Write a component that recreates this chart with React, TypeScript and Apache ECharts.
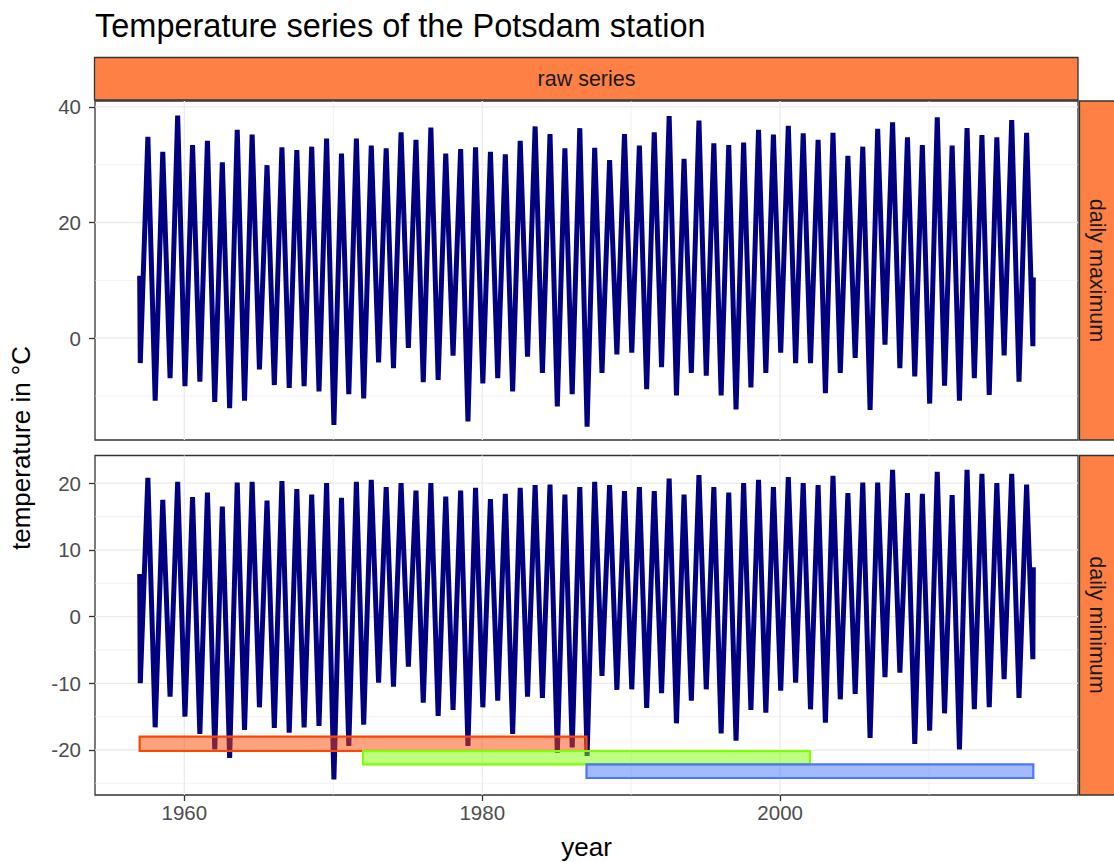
import React, { useEffect, useRef } from "react";
import * as echarts from "echarts";

// ---- data ----
const years = [
  1957, 1958, 1959, 1960, 1961, 1962, 1963, 1964, 1965, 1966,
  1967, 1968, 1969, 1970, 1971, 1972, 1973, 1974, 1975, 1976,
  1977, 1978, 1979, 1980, 1981, 1982, 1983, 1984, 1985, 1986,
  1987, 1988, 1989, 1990, 1991, 1992, 1993, 1994, 1995, 1996,
  1997, 1998, 1999, 2000, 2001, 2002, 2003, 2004, 2005, 2006,
  2007, 2008, 2009, 2010, 2011, 2012, 2013, 2014, 2015, 2016,
];

// daily maximum: winter low and summer high of each year
const maxWinter = [
  -4.3, -10.8, -6.9, -8.3, -7.5, -11.0, -12.1, -10.8, -5.4, -8.1,
  -8.6, -8.3, -9.2, -15.0, -9.7, -10.4, -4.2, -5.2, -1.7, -7.6,
  -7.2, -3.0, -14.4, -7.8, -6.9, -9.2, -3.2, -6.0, -11.8, -9.7,
  -15.3, -6.0, -2.8, -2.5, -8.8, -5.0, -9.9, -6.0, -6.5, -9.9,
  -12.3, -8.5, -6.0, -2.5, -4.3, -4.3, -9.5, -6.0, -3.4, -12.4,
  -1.1, -5.2, -6.6, -11.3, -8.2, -10.8, -6.9, -9.8, -3.0, -7.5,
];
const maxSummer = [
  34.8, 32.2, 38.5, 33.4, 34.1, 30.4, 36.0, 35.2, 29.9, 33.0,
  32.5, 33.1, 34.5, 31.9, 34.5, 33.3, 32.8, 35.6, 34.3, 36.4,
  31.9, 32.7, 33.0, 32.2, 31.8, 34.1, 36.6, 35.3, 32.8, 36.3,
  32.9, 30.8, 35.3, 33.3, 35.6, 38.4, 31.0, 37.6, 33.7, 33.4,
  33.8, 36.0, 35.2, 36.7, 35.4, 34.3, 35.5, 31.5, 33.1, 36.2,
  37.3, 34.7, 33.4, 38.2, 33.3, 36.3, 35.1, 34.7, 37.7, 35.5,
];
const maxFirst = 10.8;
const maxLastDec = -1.4;
const maxLast = 10.5;

// daily minimum: winter low and summer high of each year
const minWinter = [
  -10.0, -16.6, -12.0, -15.0, -17.6, -19.9, -21.2, -17.0, -13.6, -16.7,
  -17.4, -16.6, -16.4, -24.4, -19.4, -16.2, -9.9, -10.5, -7.5, -12.9,
  -14.9, -14.0, -19.4, -13.6, -12.6, -17.6, -12.0, -12.2, -20.4, -19.6,
  -20.9, -8.9, -11.0, -10.9, -13.7, -11.5, -16.0, -12.6, -10.9, -17.5,
  -18.6, -14.0, -14.4, -11.1, -9.9, -13.9, -15.9, -12.4, -11.6, -18.2,
  -9.1, -8.4, -19.1, -17.1, -14.5, -19.9, -13.9, -13.6, -9.4, -12.2,
];
const minSummer = [
  20.8, 17.5, 20.2, 17.9, 18.6, 16.5, 20.1, 20.2, 17.4, 20.3,
  19.1, 18.3, 20.0, 17.8, 20.2, 20.5, 19.4, 20.0, 18.9, 20.0,
  18.0, 18.9, 19.3, 17.6, 18.4, 19.3, 19.7, 19.8, 18.3, 19.4,
  20.2, 19.7, 18.8, 19.4, 18.8, 20.7, 18.3, 21.2, 19.4, 18.6,
  20.0, 20.5, 19.4, 20.9, 20.0, 19.7, 21.1, 18.5, 20.1, 20.1,
  22.0, 18.5, 18.4, 21.7, 18.2, 22.0, 21.4, 20.0, 21.4, 19.8,
];
const minFirst = 6.4;
const minLastDec = -6.4;
const minLast = 7.4;

// 30-year reference periods (bottom panel)
const periodStart = [1957, 1972, 1987];
const periodEnd = [1987, 2002, 2017];
const periodTop = [-18.0, -20.15, -22.15];
const periodBottom = [-20.15, -22.15, -24.2];
const periodStroke = ["#FF4500", "#7FFF00", "#4876FF"];
const periodFill = [
  "rgba(255,69,0,0.5)",
  "rgba(127,255,0,0.5)",
  "rgba(72,118,255,0.5)",
];

// ticks / gridlines
const xMajor = [1960, 1980, 2000];
const xMinor = [1970, 1990, 2010];
const topMajor = [0, 20, 40];
const topMinor = [-10, 10, 30];
const botMajor = [-20, -10, 0, 10, 20];
const botMinor = [-25, -15, -5, 5, 15];

const X_MIN = 1954;
const X_MAX = 2020;
const TOP_MIN = -17.6;
const TOP_MAX = 41.0;
const BOT_MIN = -26.75;
const BOT_MAX = 24.15;

function buildSeries(first: number, winter: number[], summer: number[], lastDec: number, last: number) {
  const pts: number[][] = [[years[0], first]];
  years.forEach((y, i) => {
    pts.push([y + 0.04, winter[i]]);
    pts.push([y + 0.55, summer[i]]);
  });
  pts.push([years[years.length - 1] + 0.97, lastDec]);
  pts.push([years[years.length - 1] + 1.0, last]);
  return pts;
}

function gridItems(major: number[], minor: number[], yMajor: number[], yMinor: number[], yMid: number) {
  const xMid = (X_MIN + X_MAX) / 2;
  const items: number[][] = [];
  minor.forEach((v) => items.push([v, yMid, 0, 0]));
  yMinor.forEach((v) => items.push([xMid, v, 1, 0]));
  major.forEach((v) => items.push([v, yMid, 0, 1]));
  yMajor.forEach((v) => items.push([xMid, v, 1, 1]));
  return items;
}

const renderGridLine = (params: any, api: any) => {
  const cs = params.coordSys;
  const orient = api.value(2);
  const major = api.value(3);
  const p = api.coord([api.value(0), api.value(1)]);
  const shape =
    orient === 0
      ? { x1: p[0], y1: cs.y, x2: p[0], y2: cs.y + cs.height }
      : { x1: cs.x, y1: p[1], x2: cs.x + cs.width, y2: p[1] };
  return {
    type: "line",
    shape,
    silent: true,
    style: { stroke: "#EBEBEB", lineWidth: major ? 1.3 : 0.65 },
  };
};

const FONT = "'Liberation Sans', Arial, Helvetica, sans-serif";
const STRIP = "#FF8044";
const AXIS_TEXT = 20.5;
const STRIP_TEXT = 21.5;
const AXIS_TITLE = 26;

export default function App() {
  const ref = useRef<HTMLDivElement>(null);

  useEffect(() => {
    if (!ref.current) return;
    const chart = echarts.init(ref.current, null, { renderer: "svg" });

    const gridLeft = 95;
    const gridWidth = 983;
    const topGrid = { top: 101, height: 339 };
    const botGrid = { top: 455.5, height: 339.5 };

    const rectData = periodStart.map((s, i) => [s, periodEnd[i], periodTop[i], periodBottom[i], i]);

    const yAxisCommon = (min: number, max: number, ticks: number[], gridIndex: number) => ({
      type: "value",
      gridIndex,
      min,
      max,
      axisLine: { show: false, onZero: false },
      splitLine: { show: false },
      axisTick: {
        show: true,
        customValues: ticks,
        length: 6,
        lineStyle: { color: "#333333", width: 1.3 },
      },
      axisLabel: {
        customValues: ticks,
        color: "#4D4D4D",
        fontSize: AXIS_TEXT,
        fontFamily: FONT,
        margin: 14,
        formatter: (v: number) => String(v),
      },
    });

    const lineSeries = (axis: number, data: number[][]) => ({
      type: "line",
      xAxisIndex: axis,
      yAxisIndex: axis,
      z: 3,
      symbol: "none",
      showSymbol: false,
      clip: true,
      lineStyle: { color: "#000080", width: 5, join: "miter" },
      data,
    });

    const option: any = {
      animation: false,
      backgroundColor: "#FFFFFF",
      textStyle: { fontFamily: FONT },
      grid: [
        {
          left: gridLeft,
          width: gridWidth,
          top: topGrid.top,
          height: topGrid.height,
          show: true,
          borderColor: "#333333",
          borderWidth: 1.3,
          backgroundColor: "#FFFFFF",
        },
        {
          left: gridLeft,
          width: gridWidth,
          top: botGrid.top,
          height: botGrid.height,
          show: true,
          borderColor: "#333333",
          borderWidth: 1.3,
          backgroundColor: "#FFFFFF",
        },
      ],
      xAxis: [
        {
          type: "value",
          gridIndex: 0,
          min: X_MIN,
          max: X_MAX,
          axisLine: { show: false, onZero: false },
          axisTick: { show: false },
          axisLabel: { show: false },
          splitLine: { show: false },
        },
        {
          type: "value",
          gridIndex: 1,
          min: X_MIN,
          max: X_MAX,
          axisLine: { show: false, onZero: false },
          splitLine: { show: false },
          axisTick: {
            show: true,
            customValues: xMajor,
            length: 6,
            lineStyle: { color: "#333333", width: 1.3 },
          },
          axisLabel: {
            customValues: xMajor,
            color: "#4D4D4D",
            fontSize: AXIS_TEXT,
            fontFamily: FONT,
            margin: 7,
            formatter: (v: number) => String(v),
          },
        },
      ],
      yAxis: [
        yAxisCommon(TOP_MIN, TOP_MAX, topMajor, 0),
        yAxisCommon(BOT_MIN, BOT_MAX, botMajor, 1),
      ],
      series: [
        {
          type: "custom",
          xAxisIndex: 0,
          yAxisIndex: 0,
          z: 1,
          silent: true,
          renderItem: renderGridLine,
          data: gridItems(xMajor, xMinor, topMajor, topMinor, 10),
        },
        {
          type: "custom",
          xAxisIndex: 1,
          yAxisIndex: 1,
          z: 1,
          silent: true,
          renderItem: renderGridLine,
          data: gridItems(xMajor, xMinor, botMajor, botMinor, 0),
        },
        lineSeries(0, buildSeries(maxFirst, maxWinter, maxSummer, maxLastDec, maxLast)),
        lineSeries(1, buildSeries(minFirst, minWinter, minSummer, minLastDec, minLast)),
        {
          type: "custom",
          xAxisIndex: 1,
          yAxisIndex: 1,
          z: 5,
          silent: true,
          renderItem: (params: any, api: any) => {
            const idx = api.value(4);
            const p1 = api.coord([api.value(0), api.value(2)]);
            const p2 = api.coord([api.value(1), api.value(3)]);
            return {
              type: "rect",
              shape: { x: p1[0], y: p1[1], width: p2[0] - p1[0], height: p2[1] - p1[1] },
              style: { fill: periodFill[idx], stroke: periodStroke[idx], lineWidth: 2.2 },
            };
          },
          data: rectData,
        },
      ],
      graphic: [
        {
          type: "text",
          x: 95,
          y: 26,
          style: {
            text: "Temperature series of the Potsdam station",
            fontSize: 32.5,
            fontFamily: FONT,
            fill: "#000000",
            verticalAlign: "middle",
          },
        },
        {
          type: "rect",
          shape: { x: 94.5, y: 57.5, width: 983.5, height: 42.5 },
          style: { fill: STRIP, stroke: "#333333", lineWidth: 1.3 },
        },
        {
          type: "text",
          x: 586.5,
          y: 79,
          style: {
            text: "raw series",
            fontSize: STRIP_TEXT,
            fontFamily: FONT,
            fill: "#1A1A1A",
            align: "center",
            verticalAlign: "middle",
          },
        },
        {
          type: "rect",
          shape: { x: 1079.5, y: 101, width: 45, height: 339 },
          style: { fill: STRIP, stroke: "#333333", lineWidth: 1.3 },
        },
        {
          type: "rect",
          shape: { x: 1079.5, y: 455.5, width: 45, height: 339.5 },
          style: { fill: STRIP, stroke: "#333333", lineWidth: 1.3 },
        },
        {
          type: "text",
          x: 1097,
          y: 270.5,
          rotation: -Math.PI / 2,
          style: {
            text: "daily maximum",
            fontSize: STRIP_TEXT,
            fontFamily: FONT,
            fill: "#1A1A1A",
            align: "center",
            verticalAlign: "middle",
          },
        },
        {
          type: "text",
          x: 1097,
          y: 625,
          rotation: -Math.PI / 2,
          style: {
            text: "daily minimum",
            fontSize: STRIP_TEXT,
            fontFamily: FONT,
            fill: "#1A1A1A",
            align: "center",
            verticalAlign: "middle",
          },
        },
        {
          type: "text",
          x: 21,
          y: 448,
          rotation: Math.PI / 2,
          style: {
            text: "temperature in °C",
            fontSize: AXIS_TITLE,
            fontFamily: FONT,
            fill: "#000000",
            align: "center",
            verticalAlign: "middle",
          },
        },
        {
          type: "text",
          x: 586.5,
          y: 847,
          style: {
            text: "year",
            fontSize: AXIS_TITLE,
            fontFamily: FONT,
            fill: "#000000",
            align: "center",
            verticalAlign: "middle",
          },
        },
      ],
    };

    chart.setOption(option);
    return () => chart.dispose();
  }, []);

  return (
    <div
      ref={ref}
      style={{ position: "fixed", left: 0, top: 0, width: 1114, height: 862 }}
    />
  );
}
